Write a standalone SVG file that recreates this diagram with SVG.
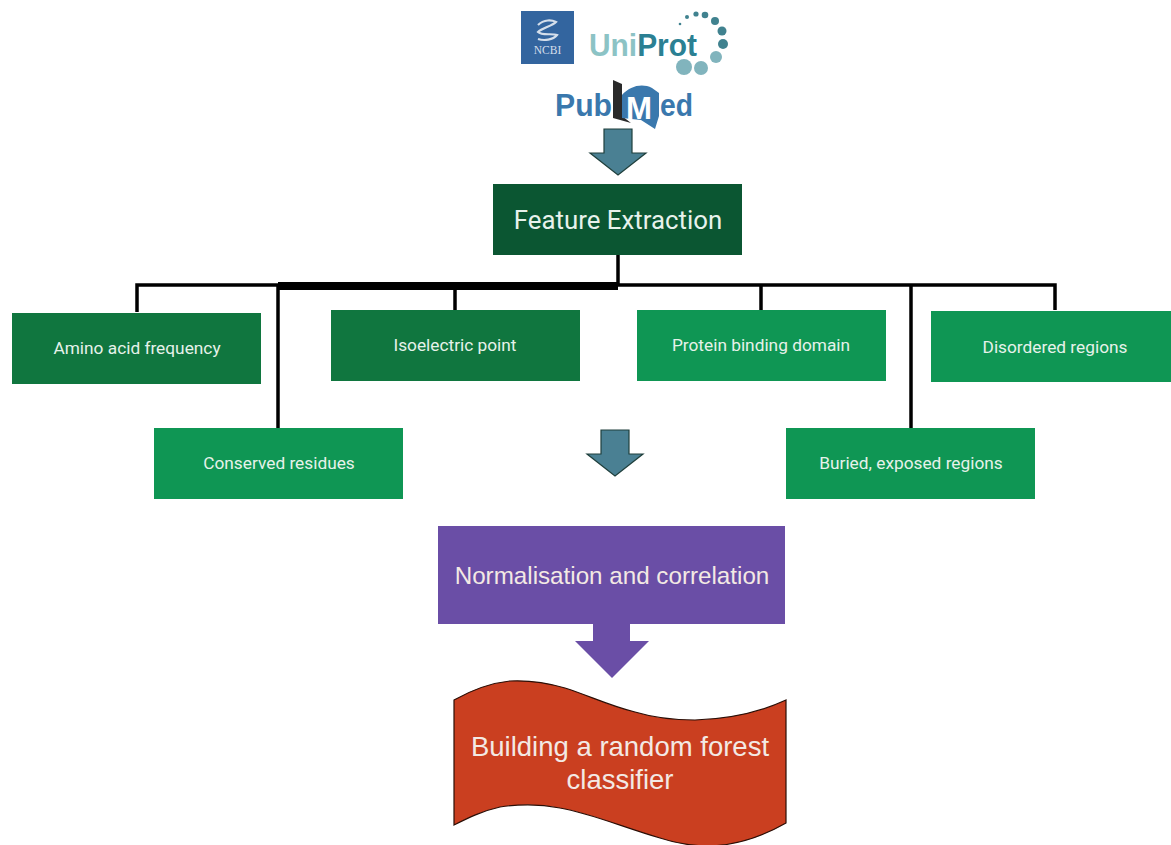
<svg xmlns="http://www.w3.org/2000/svg" width="1171" height="845" viewBox="0 0 1171 845">
<style>
.lbl{font-family:Roboto,"Liberation Sans",sans-serif;font-size:17.3px;fill:#e6f2ea;text-anchor:middle}
.big{font-family:"Liberation Sans",Arial,sans-serif;fill:#f3e9e4;text-anchor:middle}
.dark{fill:#10763f}.light{fill:#0f9654}
.wire{fill:none;stroke:#000}
.teal{fill:#4a8093;stroke:#1f3f3c;stroke-width:1.2}
.up{fill:#81b4bd}.ud{fill:#40828f}
.pm{font-family:"Liberation Sans",sans-serif;font-size:31px;font-weight:bold;fill:#3a78ad}
</style>
<rect width="1171" height="845" fill="#fff"/>
<g id="connectors">
<path class="wire" stroke-width="3.5" d="M618 255V286"/>
<path class="wire" stroke-width="3.5" d="M137 312V285H280"/>
<path class="wire" stroke-width="8" d="M278 286H618"/>
<path class="wire" stroke-width="3.5" d="M278 284V428"/>
<path class="wire" stroke-width="3.5" d="M455 288V310"/>
<path class="wire" stroke-width="3.5" d="M616 285H1055V310"/>
<path class="wire" stroke-width="3.5" d="M761 285V310"/>
<path class="wire" stroke-width="3.5" d="M911 285V428"/>
</g>
<g id="ncbi-logo">
<rect x="521" y="11" width="53" height="53" fill="#33659f"/>
<path d="M538 25C544 19 552 20 556 22C552 26 542 28 538 32C542 36 552 33 557 35C553 40 544 41 538 39" fill="none" stroke="#d5dfeb" stroke-width="2.2"/>
<text x="547.5" y="54" font-family="'Liberation Serif',serif" font-size="11.5" fill="#d5dfeb" text-anchor="middle">NCBI</text>
</g>
<g id="uniprot-logo">
<text x="589" y="55.500" font-family="'Liberation Sans',sans-serif" font-size="31" font-weight="bold" textLength="108" lengthAdjust="spacingAndGlyphs"><tspan fill="#8cc3c5">Uni</tspan><tspan fill="#2b8093">Prot</tspan></text>
<circle class="ud" cx="680" cy="24" r="1.3"/><circle class="ud" cx="687" cy="17" r="2"/><circle class="ud" cx="696" cy="14" r="2.6"/><circle class="ud" cx="705" cy="15" r="3.3"/><circle class="ud" cx="715" cy="21" r="4"/>
<circle class="ud" cx="722" cy="31" r="4.5"/><circle class="ud" cx="723" cy="44" r="5"/><circle class="up" cx="716" cy="57" r="6"/><circle class="up" cx="701" cy="68" r="7"/><circle class="up" cx="684" cy="67" r="8"/>
</g>
<g id="pubmed-logo">
<path d="M613 80L622 84V116L631 123L613 118Z" fill="#2a2a2a"/>
<path d="M622 118V95C630 86 642 83 652 88L659 93V116L655 129L641 120Z" fill="#3a78ad"/>
<text x="555" y="116" class="pm" textLength="57" lengthAdjust="spacingAndGlyphs">Pub</text>
<text x="626" y="119" class="pm" style="fill:#fff" textLength="26" lengthAdjust="spacingAndGlyphs">M</text>
<text x="660" y="116" class="pm" textLength="33" lengthAdjust="spacingAndGlyphs">ed</text>
</g>
<path id="arrow-top" class="teal" d="M604 129H632V153H646L618 175L590 153H604Z"/>
<g id="feature-extraction">
<rect x="493" y="184" width="249" height="71" fill="#0b5632"/>
<text x="618" y="229" font-family="Roboto,sans-serif" font-size="25.800" fill="#e8f2ec" text-anchor="middle">Feature Extraction</text>
</g>
<g id="amino"><rect class="dark" x="12" y="313" width="249" height="71"/><text class="lbl" x="137" y="354">Amino acid frequency</text></g>
<g id="isoelectric"><rect class="dark" x="331" y="310" width="249" height="71"/><text class="lbl" x="455" y="351">Isoelectric point</text></g>
<g id="binding"><rect class="light" x="637" y="310" width="249" height="71"/><text class="lbl" x="761" y="351">Protein binding domain</text></g>
<g id="disordered"><rect class="light" x="931" y="311" width="240" height="71"/><text class="lbl" x="1055" y="353">Disordered regions</text></g>
<g id="conserved"><rect class="light" x="154" y="428" width="249" height="71"/><text class="lbl" x="279" y="469">Conserved residues</text></g>
<g id="buried"><rect class="light" x="786" y="428" width="249" height="71"/><text class="lbl" x="911" y="469">Buried, exposed regions</text></g>
<path id="arrow-mid" class="teal" d="M601 430H629V454H643L615 476L587 454H601Z"/>
<g id="normalisation">
<path d="M438 526H785V624H630V641H649L612 678L575 641H593V624H438Z" fill="#6a4ea6"/>
<text x="612" y="584" class="big" font-size="24.200">Normalisation and correlation</text>
</g>
<g id="classifier">
<path d="M454 700C472 690 490 683 510 681C530 680 548 683 565 688C590 696 610 706 635 712C655 718 675 720 695 720C730 719 760 712 786 700V823C765 835 740 845 710 846C690 846 675 843 660 838C625 828 590 813 560 808C540 804 520 804 500 807C482 811 468 818 454 825Z" fill="#ca3f20" stroke="#2a0e06" stroke-width="1.2"/>
<text x="620" y="756" class="big" font-size="27.500">Building a random forest</text>
<text x="620" y="789" class="big" font-size="27.500">classifier</text>
</g>
</svg>
